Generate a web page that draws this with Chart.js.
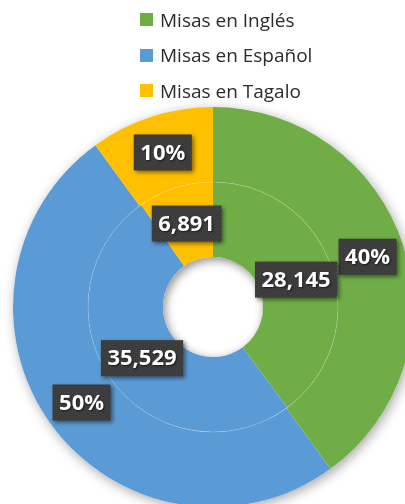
<!DOCTYPE html>
<html>
<head>
<meta charset="utf-8">
<script src="https://cdn.jsdelivr.net/npm/chart.js@4/dist/chart.umd.min.js"></script>
<style>
  html, body { margin: 0; padding: 0; width: 405px; height: 504px; overflow: hidden; background: #fff; }
  #wrap { position: absolute; left: 0; top: 0; width: 430px; height: 520px; }
  #legend { position: absolute; left: 140px; top: 2px; z-index: 2; font-family: "Open Sans", sans-serif; font-size: 19px; color: #2b2b2b; }
  #legend .row { height: 35.5px; display: flex; align-items: center; }
  #legend .box { width: 13px; height: 13px; margin-right: 7px; }
</style>
</head>
<body>
<div id="legend"></div>
<div id="wrap"><canvas id="chart" width="430" height="520"></canvas></div>
<script>
// datos
const labels = ['Misas en Inglés', 'Misas en Español', 'Misas en Tagalo'];
const colors = ['#70AD47', '#5B9BD5', '#FFC000'];
const percentValues = [40, 50, 10];
const massCounts = [28145, 35529, 6891];

// leyenda en html
const legendEl = document.getElementById('legend');
labels.forEach((label, i) => {
    const row = document.createElement('div');
    row.className = 'row';
    row.innerHTML = '<span class="box" style="background:' + colors[i] + '"></span><span>' + label + '</span>';
    legendEl.appendChild(row);
});

// patrón punteado para las etiquetas
function makePattern(ctx) {
    const c = document.createElement('canvas');
    c.width = 4; c.height = 4;
    const p = c.getContext('2d');
    p.fillStyle = '#3b3b3b';
    p.fillRect(0, 0, 4, 4);
    p.fillStyle = '#4a4a4a';
    p.fillRect(0, 0, 1, 1);
    p.fillRect(2, 2, 1, 1);
    return ctx.createPattern(c, 'repeat');
}

// sombra exterior y sombra del agujero
const shadowPlugin = {
    id: 'shadows',
    beforeDatasetsDraw(chart) {
        const arc = chart.getDatasetMeta(0).data[0];
        const ctx = chart.ctx;
        ctx.save();
        ctx.shadowColor = 'rgba(0,0,0,0.35)';
        ctx.shadowBlur = 12;
        ctx.shadowOffsetX = 2;
        ctx.shadowOffsetY = 3;
        ctx.fillStyle = '#fff';
        ctx.beginPath();
        ctx.arc(arc.x, arc.y, arc.outerRadius, 0, Math.PI * 2);
        ctx.fill();
        ctx.restore();
    },
    afterDatasetsDraw(chart) {
        const ctx = chart.ctx;
        const inner = chart.getDatasetMeta(1).data[0];
        // línea tenue entre anillos
        ctx.save();
        ctx.strokeStyle = 'rgba(255,255,255,0.15)';
        ctx.lineWidth = 1;
        ctx.beginPath();
        ctx.arc(inner.x, inner.y, inner.outerRadius, 0, Math.PI * 2);
        ctx.stroke();
        ctx.restore();
        // sombra interior del agujero
        ctx.save();
        ctx.beginPath();
        ctx.arc(inner.x, inner.y, inner.innerRadius, 0, Math.PI * 2);
        ctx.clip();
        ctx.shadowColor = 'rgba(0,0,0,0.45)';
        ctx.shadowBlur = 10;
        ctx.shadowOffsetX = 2;
        ctx.shadowOffsetY = 3;
        ctx.strokeStyle = '#fff';
        ctx.lineWidth = 20;
        ctx.beginPath();
        ctx.arc(inner.x, inner.y, inner.innerRadius + 10, 0, Math.PI * 2);
        ctx.stroke();
        ctx.restore();
    }
};

// etiquetas con caja oscura
const labelPlugin = {
    id: 'boxLabels',
    afterDraw(chart) {
        const ctx = chart.ctx;
        const pattern = makePattern(ctx);
        ctx.save();
        ctx.font = 'bold 22px "Open Sans", sans-serif';
        ctx.textAlign = 'center';
        ctx.textBaseline = 'middle';
        chart.data.datasets.forEach((ds, di) => {
            chart.getDatasetMeta(di).data.forEach((arc, i) => {
                const p = arc.getCenterPoint();
                const v = ds.data[i];
                const text = di === 0 ? v + '%' : v.toLocaleString('en-US');
                const w = ctx.measureText(text).width + 13;
                const h = 36;
                ctx.save();
                ctx.shadowColor = 'rgba(0,0,0,0.5)';
                ctx.shadowBlur = 4;
                ctx.shadowOffsetX = 2;
                ctx.shadowOffsetY = 2;
                ctx.fillStyle = pattern;
                ctx.fillRect(p.x - w / 2, p.y - h / 2, w, h);
                ctx.restore();
                ctx.save();
                ctx.shadowColor = 'rgba(0,0,0,0.6)';
                ctx.shadowBlur = 2;
                ctx.shadowOffsetX = 1;
                ctx.shadowOffsetY = 1;
                ctx.fillStyle = '#fff';
                ctx.fillText(text, p.x, p.y + 1);
                ctx.restore();
            });
        });
        ctx.restore();
    }
};

new Chart(document.getElementById('chart'), {
    type: 'doughnut',
    data: {
        labels: labels,
        datasets: [
            { data: percentValues, backgroundColor: colors, borderWidth: 0, hoverOffset: 0, offset: 0 },
            { data: massCounts, backgroundColor: colors, borderWidth: 0, hoverOffset: 0, offset: 0 }
        ]
    },
    options: {
        responsive: false,
        devicePixelRatio: 1,
        animation: false,
        cutout: '25%',
        layout: { padding: { left: 13, top: 107, right: 17, bottom: 13 } },
        plugins: {
            legend: { display: false },
            tooltip: { enabled: false }
        }
    },
    plugins: [shadowPlugin, labelPlugin]
});
</script>
</body>
</html>
